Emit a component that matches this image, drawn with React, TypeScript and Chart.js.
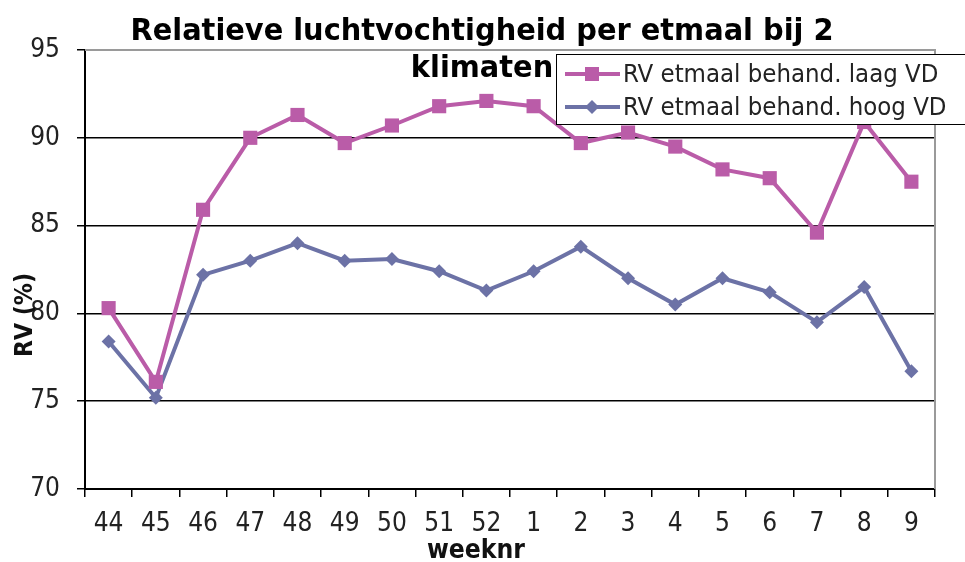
import React, { useEffect, useRef } from "react";
import { Chart, registerables } from "chart.js";
Chart.register(...registerables);

const weeks = ["44","45","46","47","48","49","50","51","52","1","2","3","4","5","6","7","8","9"];
const laagVD = [80.3,76.1,85.9,90.0,91.3,89.7,90.7,91.8,92.1,91.8,89.7,90.3,89.5,88.2,87.7,84.6,90.9,87.5];
const hoogVD = [78.4,75.2,82.2,83.0,84.0,83.0,83.1,82.4,81.3,82.4,83.8,82.0,80.5,82.0,81.2,79.5,81.5,76.7];
const titleLines = ["Relatieve luchtvochtigheid per etmaal bij 2", "klimaten"];
const seriesNames = ["RV etmaal behand. laag VD", "RV etmaal behand. hoog VD"];
const xTitle = "weeknr";
const yTitle = "RV (%)";

const PINK = "rgb(186,92,168)";
const BLUE = "rgb(108,114,166)";
const FONT = "'DejaVu Sans Condensed', 'DejaVu Sans', sans-serif";

function stretchText(ctx: CanvasRenderingContext2D, text: string, cx: number, cy: number, target: number) {
  const w = ctx.measureText(text).width;
  const s = target / w;
  ctx.save();
  ctx.translate(cx, cy);
  ctx.scale(s, 1);
  ctx.fillText(text, 0, 0);
  ctx.restore();
}

export default function App() {
  const ref = useRef<HTMLCanvasElement>(null);
  useEffect(() => {
    const overlay = {
      id: "overlay",
      beforeDatasetsDraw(chart: any) {
        const ctx = chart.ctx;
        const a = chart.chartArea;
        ctx.save();
        ctx.strokeStyle = "#9a9a9a";
        ctx.lineWidth = 2;
        ctx.beginPath();
        ctx.moveTo(a.left, a.top);
        ctx.lineTo(a.right, a.top);
        ctx.lineTo(a.right, a.bottom);
        ctx.stroke();
        ctx.restore();
      },
      afterDraw(chart: any) {
        const ctx = chart.ctx;
        ctx.save();
        ctx.fillStyle = "#000";
        ctx.textAlign = "center";
        ctx.textBaseline = "middle";
        ctx.font = `bold 30px ${FONT}`;
        const w0 = ctx.measureText(titleLines[0]).width;
        const s = 703 / w0;
        ctx.save();
        ctx.translate(482, 32);
        ctx.scale(s, 1);
        ctx.fillText(titleLines[0], 0, 0);
        ctx.restore();
        ctx.save();
        ctx.translate(482, 69);
        ctx.scale(s, 1);
        ctx.fillText(titleLines[1], 0, 0);
        ctx.restore();
        ctx.fillStyle = "#111";
        ctx.font = `bold 26px ${FONT}`;
        stretchText(ctx, xTitle, 476, 551, 98);
        ctx.save();
        ctx.translate(25, 315);
        ctx.rotate(-Math.PI / 2);
        ctx.font = `bold 25px ${FONT}`;
        stretchText(ctx, yTitle, 0, 0, 84);
        ctx.restore();
        // legend
        ctx.fillStyle = "#fff";
        ctx.fillRect(556, 54, 420, 70);
        ctx.strokeStyle = "#000";
        ctx.lineWidth = 1;
        ctx.strokeRect(556.5, 54.5, 420, 70);
        const rows = [
          { y: 74, color: PINK, style: "rect" },
          { y: 107, color: BLUE, style: "rectRot" },
        ];
        rows.forEach((row, i) => {
          ctx.strokeStyle = row.color;
          ctx.lineWidth = 4;
          ctx.beginPath();
          ctx.moveTo(565, row.y);
          ctx.lineTo(620, row.y);
          ctx.stroke();
          ctx.fillStyle = row.color;
          if (row.style === "rect") {
            ctx.fillRect(592 - 7, row.y - 7, 14, 14);
          } else {
            ctx.beginPath();
            ctx.moveTo(592, row.y - 7);
            ctx.lineTo(599, row.y);
            ctx.lineTo(592, row.y + 7);
            ctx.lineTo(585, row.y);
            ctx.closePath();
            ctx.fill();
          }
          ctx.fillStyle = "#222";
          ctx.textAlign = "left";
          ctx.font = `25.5px ${FONT}`;
          ctx.fillText(seriesNames[i], 623, row.y + 1);
        });
        ctx.restore();
      },
    };

    const chart = new Chart(ref.current!, {
      type: "line",
      data: {
        labels: weeks,
        datasets: [
          {
            label: seriesNames[0],
            data: laagVD,
            borderColor: PINK,
            backgroundColor: PINK,
            borderWidth: 4,
            pointStyle: "rect",
            pointRadius: 10,
            pointBorderWidth: 0,
            tension: 0,
          },
          {
            label: seriesNames[1],
            data: hoogVD,
            borderColor: BLUE,
            backgroundColor: BLUE,
            borderWidth: 4,
            pointStyle: "rectRot",
            pointRadius: 7,
            pointBorderWidth: 0,
            tension: 0,
          },
        ],
      },
      options: {
        animation: false,
        responsive: false,
        layout: { padding: { top: 50, right: 30, left: 0, bottom: 0 } },
        plugins: { legend: { display: false }, title: { display: false }, tooltip: { enabled: false } },
        scales: {
          x: {
            offset: true,
            grid: { offset: true, drawOnChartArea: false, color: "#000", tickLength: 8, lineWidth: 1.5 },
            border: { color: "#000", width: 2 },
            ticks: { color: "#222", font: { family: FONT, size: 26 }, padding: 12, maxRotation: 0, autoSkip: false },
            afterFit: (s: any) => { s.height = 73; },
          },
          y: {
            min: 70,
            max: 95,
            ticks: { stepSize: 5, color: "#222", font: { family: FONT, size: 26 }, padding: 17 },
            grid: { color: "#000", lineWidth: 1.5, tickLength: 8 },
            border: { color: "#000", width: 2 },
            afterFit: (s: any) => { s.width = 85; },
          },
        },
      },
      plugins: [overlay],
    });
    return () => chart.destroy();
  }, []);
  return (
    <div style={{ position: "absolute", left: 0, top: 0, width: 965, height: 562, background: "#fff" }}>
      <canvas ref={ref} width={965} height={562} />
    </div>
  );
}
